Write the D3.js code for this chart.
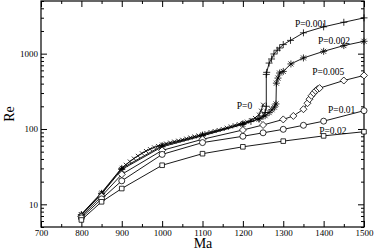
<!DOCTYPE html>
<html lang="en">
<head>
    <meta charset="UTF-8">
    <title>Re vs Ma</title>
    <style>
        body { margin: 0; background: #fff; }
        .tick text { font-family: "Liberation Serif", serif; font-size: 9px; fill: #000; }
        .tick line { stroke: #000; }
        .domain { stroke: none; }
        .axis-label { font-family: "Liberation Serif", serif; font-size: 14px; fill: #000; }
        .curve-label { font-family: "Liberation Serif", serif; font-size: 9.5px; fill: #000; }
    </style>
</head>
<body>
<svg width="374" height="250"></svg>
<script src="https://d3js.org/d3.v7.min.js"></script>
<script>

    // Data (Ma, Re)
    const maP0 = [800, 850, 900, 910, 920, 930, 940, 950, 960, 970, 980, 990, 1000,
        1010, 1020, 1030, 1040, 1050, 1060, 1070, 1080, 1090, 1100, 1110, 1120, 1130,
        1140, 1150, 1160, 1170, 1180, 1190, 1200, 1210, 1220, 1230, 1240, 1245, 1250];
    const reP0 = [7.4, 14.3, 30.5, 33.5, 37, 40.5, 44, 47.5, 51, 54, 57, 59.5, 62,
        64, 66, 68, 70, 72, 74.5, 77, 79.5, 82, 85, 88, 91, 94,
        97, 100, 104, 108, 112, 116, 120, 125, 131, 140, 155, 175, 210];

    const maP001 = [800, 850, 900, 1000, 1100, 1200, 1220, 1240, 1250, 1255, 1258, 1258, 1259,
        1265, 1271, 1277, 1285, 1291, 1300, 1318, 1350, 1400, 1450, 1500];
    const reP001 = [7.3, 14, 30, 60, 83, 117, 126, 138, 148, 165, 200, 530, 565,
        750, 850, 990, 1110, 1190, 1320, 1500, 1890, 2270, 2610, 2985];

    const maP002 = [800, 850, 900, 1000, 1100, 1200, 1240, 1255, 1265, 1272, 1278, 1282, 1283,
        1287, 1291, 1300, 1319, 1350, 1400, 1450, 1500];
    const reP002 = [7.2, 13.7, 29, 58, 81, 115, 135, 150, 165, 180, 195, 215, 406,
        474, 553, 581, 730, 877, 1074, 1280, 1460];

    const maP005 = [800, 850, 900, 1000, 1100, 1200, 1250, 1300, 1325, 1350, 1360, 1365,
        1370, 1375, 1380, 1385, 1390, 1450, 1500];
    const reP005 = [6.9, 12.8, 25, 52, 73, 97, 113, 134, 149, 183, 220, 249,
        276, 299, 321, 338, 349, 440, 514];

    const maP01 = [800, 850, 900, 1000, 1100, 1200, 1250, 1300, 1350, 1400, 1500];
    const reP01 = [6.6, 11.8, 20.5, 46, 66, 80, 89, 99, 112, 127, 175];

    const maP02 = [800, 850, 900, 1000, 1100, 1200, 1300, 1400, 1500];
    const reP02 = [6.2, 10.8, 16.2, 33, 47, 58, 69, 81, 92];

    const xTicks = [700, 800, 900, 1000, 1100, 1200, 1300, 1400, 1500];
    const xMinorTicks = [750, 850, 950, 1050, 1150, 1250, 1350, 1450];
    const yTicks = [10, 100, 1000];
    const yMinorTicks = [5, 6, 7, 8, 9, 20, 30, 40, 50, 60, 70, 80, 90,
        200, 300, 400, 500, 600, 700, 800, 900, 2000, 3000, 4000, 5000];

    // Marker shapes
    const markers = {
        cross: 'M-2,-2L2,2M-2,2L2,-2',
        plus: 'M-3.5,0H3.5M0,-3.5V3.5',
        star: 'M-3.5,0H3.5M0,-3.5V3.5M-2.5,-2.5L2.5,2.5M-2.5,2.5L2.5,-2.5',
        diamond: 'M0,-3.5L3.5,0L0,3.5L-3.5,0Z',
        circle: 'M3,0A3,3 0 1,1 -3,0A3,3 0 1,1 3,0Z',
        square: 'M-2.3,-2.3H2.3V2.3H-2.3Z'
    };

    const series = [
        { ma: maP0, re: reP0, marker: 'cross' },
        { ma: maP001, re: reP001, marker: 'plus' },
        { ma: maP002, re: reP002, marker: 'star' },
        { ma: maP005, re: reP005, marker: 'diamond' },
        { ma: maP01, re: reP01, marker: 'circle' },
        { ma: maP02, re: reP02, marker: 'square' }
    ];

    // Curve labels, placed in data units
    const labels = [
        { text: 'P=0.001', ma: 1329, re: 2260 },
        { text: 'P=0.002', ma: 1386, re: 1340 },
        { text: 'P=0.005', ma: 1372, re: 520 },
        { text: 'P=0.01', ma: 1411, re: 163 },
        { text: 'P=0.02', ma: 1389, re: 86 },
        { text: 'P=0', ma: 1185, re: 184 }
    ];

    const margin = { left: 41, right: 10, top: 1, bottom: 23 };

    const svg = d3.select('svg');
    const width = +svg.attr('width');
    const height = +svg.attr('height');
    const innerWidth = width - margin.left - margin.right;
    const innerHeight = height - margin.top - margin.bottom;

    const g = svg.append('g')
        .attr('transform', 'translate(' + margin.left + ',' + margin.top + ')');

    const xScale = d3.scaleLinear().domain([700, 1500]).range([0, innerWidth]);
    const yScale = d3.scaleLog().domain([5, 5000]).range([innerHeight, 0]);

    // Axes with inward ticks; only bottom and left carry labels
    const addAxis = function (axis, transform, values, size, labelled) {
        const a = g.append('g')
            .attr('transform', transform)
            .call(axis.tickValues(values).tickSize(-size).tickPadding(3)
                .tickFormat(d3.format('d')));
        if (!labelled) {
            a.selectAll('text').remove();
        }
    };

    const bottom = 'translate(0,' + innerHeight + ')';
    const right = 'translate(' + innerWidth + ',0)';

    addAxis(d3.axisBottom(xScale), bottom, xTicks, 6, true);
    addAxis(d3.axisBottom(xScale), bottom, xMinorTicks, 3, false);
    addAxis(d3.axisTop(xScale), null, xTicks, 6, false);
    addAxis(d3.axisTop(xScale), null, xMinorTicks, 3, false);
    addAxis(d3.axisLeft(yScale), null, yTicks, 6, true);
    addAxis(d3.axisLeft(yScale), null, yMinorTicks, 3, false);
    addAxis(d3.axisRight(yScale), right, yTicks, 6, false);
    addAxis(d3.axisRight(yScale), right, yMinorTicks, 3, false);

    // Frame
    g.append('rect')
        .attr('width', innerWidth)
        .attr('height', innerHeight)
        .attr('fill', 'none')
        .attr('stroke', '#000')
        .attr('stroke-width', 1.2);

    const line = d3.line()
        .x(function (d) { return xScale(d[0]); })
        .y(function (d) { return yScale(d[1]); });

    series.forEach(function (s) {
        const pts = s.ma.map(function (m, i) { return [m, s.re[i]]; });
        const open = s.marker === 'plus' || s.marker === 'star' || s.marker === 'cross';

        g.append('path')
            .datum(pts)
            .attr('d', line)
            .attr('fill', 'none')
            .attr('stroke', '#000')
            .attr('stroke-width', 0.9);

        g.selectAll(null)
            .data(pts)
            .enter()
            .append('path')
            .attr('d', markers[s.marker])
            .attr('transform', function (d) {
                return 'translate(' + xScale(d[0]) + ',' + yScale(d[1]) + ')';
            })
            .attr('fill', open ? 'none' : '#fff')
            .attr('stroke', '#000')
            .attr('stroke-width', 0.8);
    });

    g.selectAll('.curve-label')
        .data(labels)
        .enter()
        .append('text')
        .attr('class', 'curve-label')
        .attr('x', function (d) { return xScale(d.ma); })
        .attr('y', function (d) { return yScale(d.re); })
        .text(function (d) { return d.text; });

    // Axis titles
    svg.append('text')
        .attr('class', 'axis-label')
        .attr('x', 203)
        .attr('y', 248)
        .style('text-anchor', 'middle')
        .text('Ma');

    svg.append('text')
        .attr('class', 'axis-label')
        .attr('transform', 'translate(14,114) rotate(-90)')
        .style('text-anchor', 'middle')
        .text('Re');

</script>
</body>
</html>
